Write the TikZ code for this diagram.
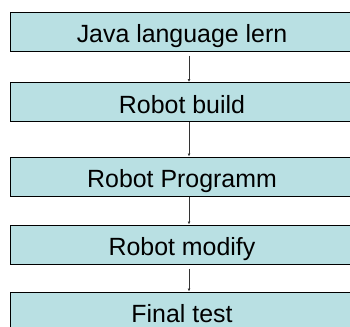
\documentclass[tikz,border=0pt]{standalone}
\usepackage{fontspec}
\setmainfont{Liberation Sans}
\usetikzlibrary{arrows.meta}
\definecolor{boxfill}{RGB}{185,224,227}
\begin{document}
\begin{tikzpicture}[x=1bp, y=-1bp,
    stagebox/.style={draw=black, line width=1bp, fill=boxfill, minimum width=342bp,
        minimum height=39bp, inner sep=0pt, text height=22bp, text depth=0pt,
        font=\fontsize{25}{28}\selectfont},
    stagearrow/.style={draw=black!80, line width=0.6bp, -{Latex[length=3bp, width=3bp]}}]
    \useasboundingbox (0,0) rectangle (350,327);

    % Stages of the project, top to bottom
    \node[stagebox] (java)   at (182, 31.5)  {Java language lern};
    \node[stagebox] (build)  at (182, 102)   {Robot build};
    \node[stagebox] (prog)   at (182, 176.5) {Robot Programm};
    \node[stagebox] (modify) at (182, 244.5) {Robot modify};
    \node[stagebox] (final)  at (182, 311.5) {Final test};

    % Connectors, a little right of the middle
    \draw[stagearrow] ([xshift=7bp, yshift=-4bp]java.south) -- ([xshift=7bp]build.north);
    \draw[stagearrow] ([xshift=7bp]build.south) -- ([xshift=7bp]prog.north);
    \draw[stagearrow] ([xshift=7bp]prog.south) -- ([xshift=7bp]modify.north);
    \draw[stagearrow] ([xshift=7bp, yshift=-4bp]modify.south) -- ([xshift=7bp]final.north);
\end{tikzpicture}
\end{document}
